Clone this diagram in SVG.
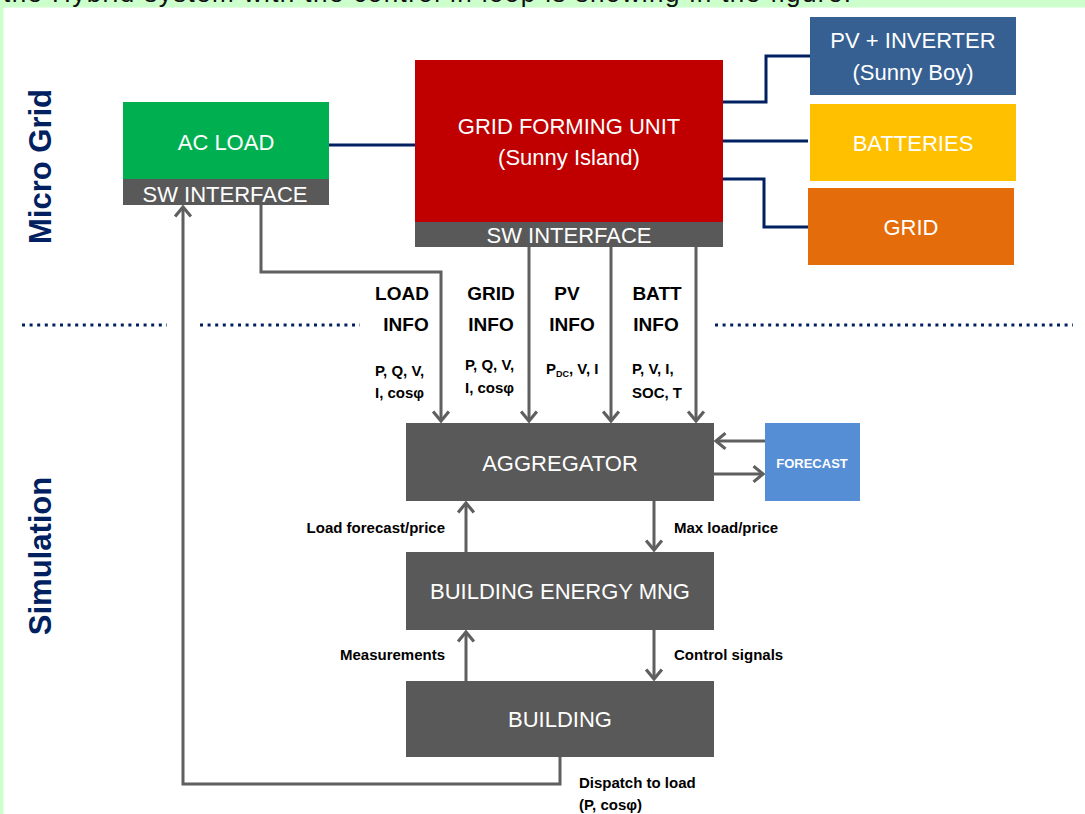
<svg xmlns="http://www.w3.org/2000/svg" width="1085" height="814" viewBox="0 0 1085 814">
<style>
.bt{font-family:"Liberation Sans",Arial,sans-serif;fill:#fff;font-size:22px;text-anchor:middle}
.hd{font-family:"Liberation Sans",Arial,sans-serif;font-weight:bold;font-size:19px;fill:#000;text-anchor:middle}
.lb{font-family:"Liberation Sans",Arial,sans-serif;font-weight:bold;font-size:15px;fill:#000}
.sec{font-family:"Liberation Sans",Arial,sans-serif;font-weight:bold;font-size:31px;fill:#002060;text-anchor:middle}
.nv{fill:none;stroke:#002060;stroke-width:3}
.gy{fill:none;stroke:#5f5f5f;stroke-width:3}
.dot{fill:none;stroke:#002060;stroke-width:3;stroke-dasharray:3 4.6}
</style>
<defs>
<marker id="ah" markerUnits="userSpaceOnUse" markerWidth="16" markerHeight="20" viewBox="-2 -2 14 19" refX="10" refY="7.5" orient="auto">
<path d="M1,0 L10,7.5 L1,15" fill="none" stroke="#5f5f5f" stroke-width="3"/>
</marker>
</defs>
<rect x="0" y="0" width="1085" height="814" fill="#fff"/>
<rect x="0" y="0" width="1085" height="7.5" fill="#ccffcc"/>
<rect x="0" y="0" width="3.5" height="814" fill="#ccffcc"/>
<text x="3" y="1.5" font-family="Liberation Sans,Arial,sans-serif" font-size="26" fill="#111" textLength="848">the Hybrid system with the control in loop is showing in the figure.</text>

<text class="sec" transform="translate(51,166.5) rotate(-90)">Micro Grid</text>
<text class="sec" transform="translate(51,556) rotate(-90)">Simulation</text>

<g id="separators">
<line class="dot" x1="22" y1="325" x2="167" y2="325"/>
<line class="dot" x1="200" y1="325" x2="360" y2="325"/>
<line class="dot" x1="715" y1="325" x2="1073" y2="325"/>
</g>

<g id="connectors">
<path class="nv" d="M329,145 H415"/>
<path class="nv" d="M723,102 H766 V56 H810"/>
<path class="nv" d="M723,141 H808"/>
<path class="nv" d="M723,179 H764 V227 H808"/>
<path class="gy" d="M261,205 V272 H441 V421" marker-end="url(#ah)"/>
<path class="gy" d="M529,247 V421" marker-end="url(#ah)"/>
<path class="gy" d="M611,247 V421" marker-end="url(#ah)"/>
<path class="gy" d="M696,247 V421" marker-end="url(#ah)"/>
<path class="gy" d="M765,441 H716" marker-end="url(#ah)"/>
<path class="gy" d="M714,474 H763" marker-end="url(#ah)"/>
<path class="gy" d="M466,552 V503" marker-end="url(#ah)"/>
<path class="gy" d="M654,501 V550" marker-end="url(#ah)"/>
<path class="gy" d="M466,681 V632" marker-end="url(#ah)"/>
<path class="gy" d="M654,630 V679" marker-end="url(#ah)"/>
<path class="gy" d="M560,757 V784 H183 V207" marker-end="url(#ah)"/>
</g>

<g id="ac-load">
<rect x="123" y="102" width="206" height="77" fill="#00b050"/>
<rect x="123" y="179" width="206" height="26" fill="#595959"/>
<text class="bt" x="226" y="150">AC LOAD</text>
<text class="bt" x="225" y="202" font-size="21">SW INTERFACE</text>
</g>

<g id="grid-forming-unit">
<rect x="415" y="60" width="308" height="162" fill="#c00000"/>
<rect x="415" y="222" width="308" height="25" fill="#595959"/>
<text class="bt" x="569" y="134">GRID FORMING UNIT</text>
<text class="bt" x="569" y="165">(Sunny Island)</text>
<text class="bt" x="569" y="243" font-size="21">SW INTERFACE</text>
</g>

<g id="pv-inverter">
<rect x="810" y="17" width="206" height="78" fill="#376092"/>
<text class="bt" x="913" y="48">PV + INVERTER</text>
<text class="bt" x="913" y="80">(Sunny Boy)</text>
</g>

<g id="batteries">
<rect x="810" y="104" width="206" height="77" fill="#ffc000"/>
<text class="bt" x="913" y="151">BATTERIES</text>
</g>

<g id="grid">
<rect x="808" y="188" width="206" height="77" fill="#e46c0a"/>
<text class="bt" x="911" y="235">GRID</text>
</g>

<g id="info-labels">
<text class="hd" x="402" y="300">LOAD</text>
<text class="hd" x="406" y="331">INFO</text>
<text class="lb" x="375" y="376">P, Q, V,</text>
<text class="lb" x="375" y="398">I, cosφ</text>
<text class="hd" x="491" y="300">GRID</text>
<text class="hd" x="491" y="331">INFO</text>
<text class="lb" x="465" y="370">P, Q, V,</text>
<text class="lb" x="465" y="393">I, cosφ</text>
<text class="hd" x="567" y="300">PV</text>
<text class="hd" x="572" y="331">INFO</text>
<text class="lb" x="546" y="374">P<tspan font-size="9" dy="3">DC</tspan><tspan dy="-3">, V, I</tspan></text>
<text class="hd" x="657" y="300">BATT</text>
<text class="hd" x="656" y="331">INFO</text>
<text class="lb" x="632" y="374">P, V, I,</text>
<text class="lb" x="632" y="398">SOC, T</text>
</g>

<g id="aggregator">
<rect x="406" y="423" width="308" height="78" fill="#595959"/>
<text class="bt" x="560" y="471">AGGREGATOR</text>
</g>

<g id="forecast">
<rect x="765" y="423" width="95" height="78" fill="#558ed5"/>
<text x="812" y="468" font-family="Liberation Sans,Arial,sans-serif" font-weight="bold" font-size="13" fill="#fff" text-anchor="middle">FORECAST</text>
</g>

<g id="building-energy-mng">
<rect x="406" y="552" width="308" height="78" fill="#595959"/>
<text class="bt" x="560" y="599">BUILDING ENERGY MNG</text>
</g>

<g id="building">
<rect x="406" y="681" width="308" height="76" fill="#595959"/>
<text class="bt" x="560" y="727">BUILDING</text>
</g>

<g id="flow-labels">
<text class="lb" x="445" y="533" text-anchor="end" font-size="15.5">Load forecast/price</text>
<text class="lb" x="674" y="533" font-size="15.5">Max load/price</text>
<text class="lb" x="445" y="660" text-anchor="end" font-size="15.5">Measurements</text>
<text class="lb" x="674" y="660" font-size="15.5">Control signals</text>
<text class="lb" x="579" y="788" font-size="15.5">Dispatch to load</text>
<text class="lb" x="579" y="810" font-size="15.5">(P, cosφ)</text>
</g>
</svg>
